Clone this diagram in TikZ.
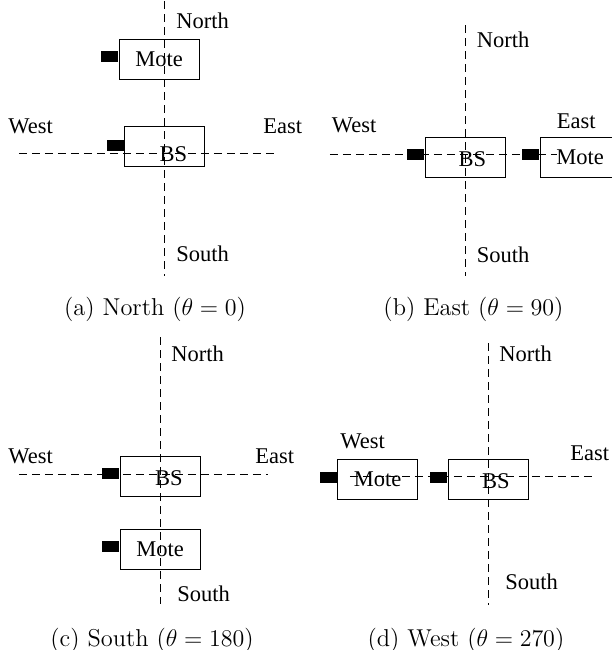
\documentclass[tikz,border=0pt]{standalone}
\usepackage{fontspec}
\newfontfamily\labelfont{Liberation Serif}
\usepackage{tikz}
\usetikzlibrary{positioning}

\begin{document}
\begin{tikzpicture}[x=0.5pt, y=-0.5pt,
	axis/.style={dash pattern=on 4pt off 2.5pt, line width=0.4pt},
	box/.style={draw, line width=0.4pt, minimum width=40pt, minimum height=20pt, inner sep=0pt, font=\labelfont\fontsize{11.25}{13}\selectfont},
	port/.style={fill=black, minimum width=8.5pt, minimum height=5.5pt, inner sep=0pt},
	txt/.style={inner sep=0pt, font=\labelfont\fontsize{11.25}{13}\selectfont},
	dir/.style={txt, anchor=base west},
	subcap/.style={inner sep=0pt, anchor=base, font=\fontsize{12.2}{14}\selectfont}]
	\useasboundingbox (0,0) rectangle (612,650);

	% (a) north
	\coordinate (aTop) at (164, 1);
	\coordinate (aBot) at (164, 276);
	\coordinate (aLeft) at (19, 153);
	\coordinate (aRight) at (276, 153);
	\draw [axis] (aTop) to (aBot);
	\draw [axis] (aLeft) to (aRight);
	\node [box] (moteA) at (159, 59.5) {Mote};
	\node [box] (bsA) at (164.5, 146.5) {};
	\node [txt] (bsAtext) at (173.5, 154) {BS};
	\node [port, left=0pt of moteA.west, yshift=1.5pt] (moteAport) {};
	\node [port, left=0pt of bsA.west, yshift=0.75pt] (bsAport) {};
	\node [dir] (northA) at (176, 28) {North};
	\node [dir] (southA) at (176, 261) {South};
	\node [dir] (westA) at (8, 133) {West};
	\node [dir] (eastA) at (263, 133) {East};
	\node [subcap] (capA) at (155, 315) {(a) North ($\theta = 0$)};

	% (b) east
	\coordinate (bTop) at (465, 25);
	\coordinate (bBot) at (465, 276);
	\coordinate (bLeft) at (330, 154);
	\coordinate (bRight) at (557, 154);
	\draw [axis] (bTop) to (bBot);
	\draw [axis] (bLeft) to (bRight);
	\node [box] (bsB) at (465, 157) {};
	\node [txt] (bsBtext) at (472.5, 159) {BS};
	\node [box] (moteB) at (580, 157) {Mote};
	\node [port, left=0pt of bsB.west, yshift=1.25pt] (bsBport) {};
	\node [port, left=0pt of moteB.west, yshift=1.25pt] (moteBport) {};
	\node [dir] (northB) at (476.5, 47) {North};
	\node [dir] (southB) at (476.5, 262) {South};
	\node [dir] (westB) at (331.5, 132) {West};
	\node [dir] (eastB) at (556.5, 128) {East};
	\node [subcap] (capB) at (473.5, 315) {(b) East ($\theta = 90$)};

	% (c) south
	\coordinate (cTop) at (160, 337);
	\coordinate (cBot) at (160, 604);
	\coordinate (cLeft) at (19, 474);
	\coordinate (cRight) at (268, 474);
	\draw [axis] (cTop) to (cBot);
	\draw [axis] (cLeft) to (cRight);
	\node [box] (bsC) at (160, 476) {};
	\node [txt] (bsCtext) at (169, 478) {BS};
	\node [box] (moteC) at (160, 549.5) {Mote};
	\node [port, left=0pt of bsC.west, yshift=1.25pt] (bsCport) {};
	\node [port, left=0pt of moteC.west, yshift=1.5pt] (moteCport) {};
	\node [dir] (northC) at (171, 361) {North};
	\node [dir] (southC) at (177, 601) {South};
	\node [dir] (westC) at (8, 463) {West};
	\node [dir] (eastC) at (255, 463) {East};
	\node [subcap] (capC) at (152, 646) {(c) South ($\theta = 180$)};

	% (d) west
	\coordinate (dTop) at (488, 343);
	\coordinate (dBot) at (488, 605);
	\coordinate (dLeft) at (350, 476);
	\coordinate (dRight) at (593, 476);
	\draw [axis] (dTop) to (dBot);
	\draw [axis] (dLeft) to (dRight);
	\node [box] (bsD) at (488, 479.5) {};
	\node [txt] (bsDtext) at (496, 481) {BS};
	\node [box] (moteD) at (377.5, 479.5) {Mote};
	\node [port, left=0pt of bsD.west, yshift=1.25pt] (bsDport) {};
	\node [port, left=0pt of moteD.west, yshift=1.25pt] (moteDport) {};
	\node [dir] (northD) at (499, 361) {North};
	\node [dir] (southD) at (505, 589) {South};
	\node [dir] (westD) at (340, 448) {West};
	\node [dir] (eastD) at (570, 460) {East};
	\node [subcap] (capD) at (466, 646) {(d) West ($\theta = 270$)};
\end{tikzpicture}
\end{document}
